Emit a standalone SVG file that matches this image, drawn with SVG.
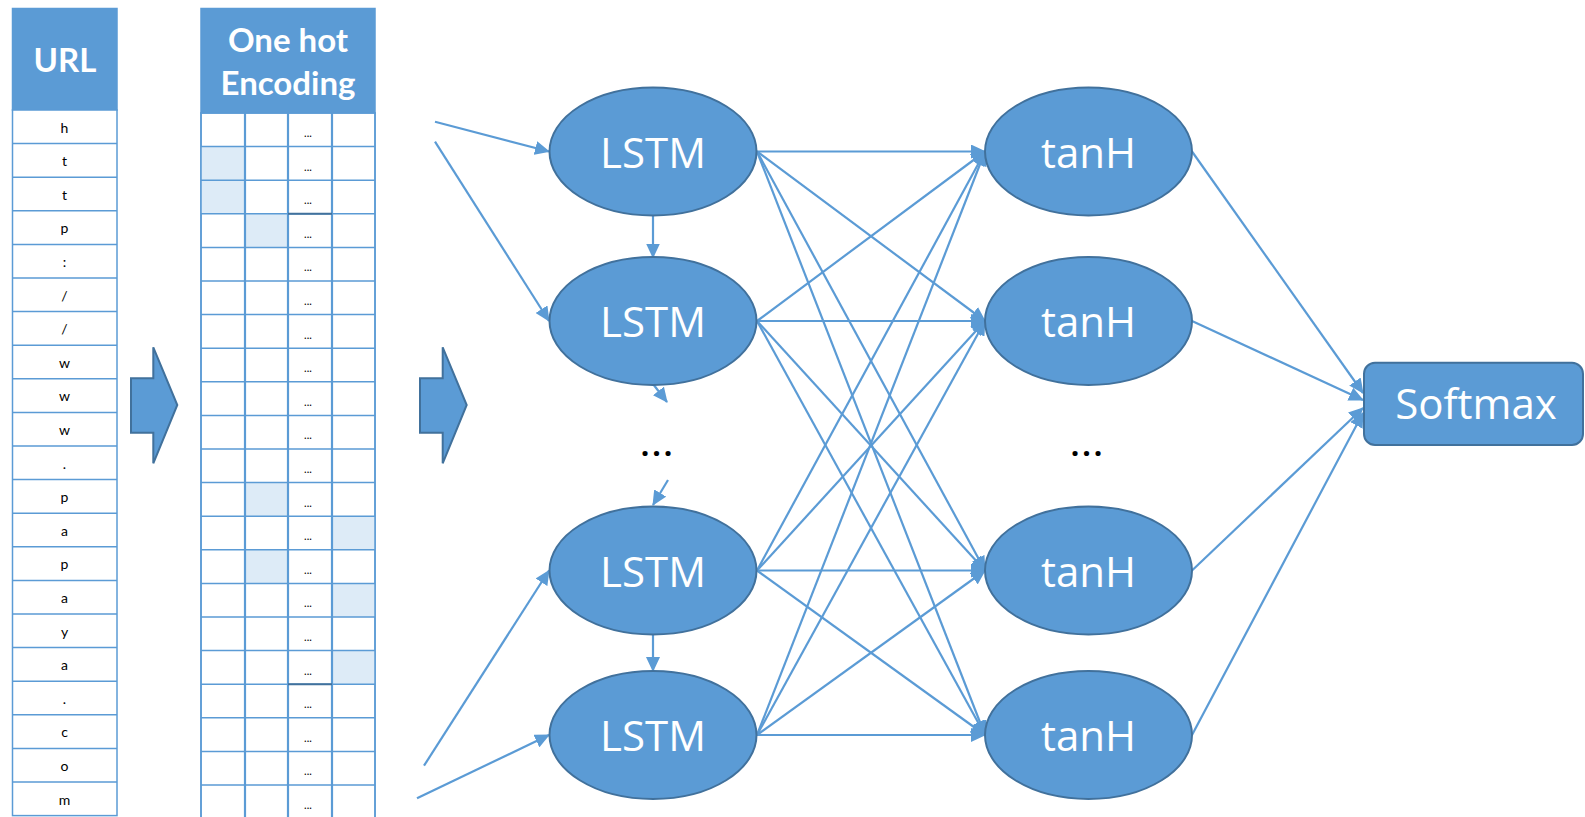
<svg xmlns="http://www.w3.org/2000/svg" width="1585" height="817" viewBox="0 0 1585 817">
<style>
.hdr{fill:#5B9BD5;stroke:#5B9BD5;stroke-width:1.5}
.body{fill:#FFFFFF;stroke:#5B9BD5;stroke-width:1.5}
.grid{stroke:#5B9BD5;stroke-width:1.5;fill:none}
.gridc{stroke:#5B9BD5;stroke-width:2.2;fill:none}
.shade{fill:#DDEBF7}
.htxt{font-family:Lato,"Liberation Sans",sans-serif;font-weight:bold;font-size:33px;fill:#FFFFFF;text-anchor:middle}
.ctxt{font-family:Lato,"Liberation Sans",sans-serif;font-size:14px;fill:#000000;text-anchor:middle}
.dtxt{font-family:Lato,"Liberation Sans",sans-serif;font-size:11px;fill:#000000;text-anchor:middle}
.node{fill:#5B9BD5;stroke:#41719C;stroke-width:2}
.ntxt{font-family:"Open Sans","Liberation Sans",sans-serif;font-size:42px;fill:#FFFFFF;text-anchor:middle}
.ell{font-family:"Open Sans","Liberation Sans",sans-serif;font-weight:bold;font-size:30px;fill:#000000;text-anchor:middle;letter-spacing:3px}
.con{stroke:#5B9BD5;stroke-width:2.2;fill:none;marker-end:url(#ah)}
</style>
<defs>
<marker id="ah" viewBox="0 0 15 14" refX="14" refY="7" markerWidth="15" markerHeight="14" markerUnits="userSpaceOnUse" orient="auto">
<path d="M0,0 L15,7 L0,14 z" fill="#5B9BD5"/>
</marker>
</defs>
<rect width="1585" height="817" fill="#FFFFFF"/>

<g id="url-table">
<rect class="hdr" x="12.5" y="8.5" width="104.5" height="101.5"/>
<text class="htxt" x="65" y="72">URL</text>
<rect class="body" x="12.5" y="110" width="104.5" height="705.6"/>
<path class="grid" d="M12.5,143.6H117M12.5,177.2H117M12.5,210.8H117M12.5,244.4H117M12.5,278H117M12.5,311.6H117M12.5,345.2H117M12.5,378.8H117M12.5,412.4H117M12.5,446H117M12.5,479.6H117M12.5,513.2H117M12.5,546.8H117M12.5,580.4H117M12.5,614H117M12.5,647.6H117M12.5,681.2H117M12.5,714.8H117M12.5,748.4H117M12.5,782H117"/>
<text class="ctxt" x="64.5" y="132.5">h</text>
<text class="ctxt" x="64.5" y="166.1">t</text>
<text class="ctxt" x="64.5" y="199.7">t</text>
<text class="ctxt" x="64.5" y="233.3">p</text>
<text class="ctxt" x="64.5" y="266.9">:</text>
<text class="ctxt" x="64.5" y="300.5">/</text>
<text class="ctxt" x="64.5" y="334.1">/</text>
<text class="ctxt" x="64.5" y="367.7">w</text>
<text class="ctxt" x="64.5" y="401.3">w</text>
<text class="ctxt" x="64.5" y="434.9">w</text>
<text class="ctxt" x="64.5" y="468.5">.</text>
<text class="ctxt" x="64.5" y="502.1">p</text>
<text class="ctxt" x="64.5" y="535.7">a</text>
<text class="ctxt" x="64.5" y="569.3">p</text>
<text class="ctxt" x="64.5" y="602.9">a</text>
<text class="ctxt" x="64.5" y="636.5">y</text>
<text class="ctxt" x="64.5" y="670.1">a</text>
<text class="ctxt" x="64.5" y="703.7">.</text>
<text class="ctxt" x="64.5" y="737.3">c</text>
<text class="ctxt" x="64.5" y="770.9">o</text>
<text class="ctxt" x="64.5" y="804.5">m</text>
</g>

<g id="arrow-1">
<polygon class="node" points="131,378.3 153.3,378.3 153.3,347.3 177.3,405 153.3,463.3 153.3,432.7 131,432.7"/>
</g>

<g id="onehot-table">
<rect class="hdr" x="201" y="8.5" width="174" height="104.5"/>
<text class="htxt" x="288" y="52">One hot</text>
<text class="htxt" x="288" y="95">Encoding</text>
<rect class="body" x="201" y="113" width="174" height="706"/>
<rect class="shade" x="201" y="146.6" width="44" height="33.6"/>
<rect class="shade" x="201" y="180.2" width="44" height="33.6"/>
<rect class="shade" x="245" y="213.8" width="43" height="33.6"/>
<rect class="shade" x="245" y="482.6" width="43" height="33.6"/>
<rect class="shade" x="332" y="516.2" width="43" height="33.6"/>
<rect class="shade" x="245" y="549.8" width="43" height="33.6"/>
<rect class="shade" x="332" y="583.4" width="43" height="33.6"/>
<rect class="shade" x="332" y="650.6" width="43" height="33.6"/>
<path class="grid" d="M201,146.6H375M201,180.2H375M201,213.8H375M201,247.4H375M201,281H375M201,314.6H375M201,348.2H375M201,381.8H375M201,415.4H375M201,449H375M201,482.6H375M201,516.2H375M201,549.8H375M201,583.4H375M201,617H375M201,650.6H375M201,684.2H375M201,717.8H375M201,751.4H375M201,785H375"/>
<path class="gridc" d="M245,113V817M288,113V817M332,113V817"/>
<path d="M288,213.8H332M288,684.2H332" stroke="#41719C" stroke-width="2" fill="none"/>
<rect x="201" y="113" width="174" height="706" fill="none" stroke="#5B9BD5" stroke-width="1.5"/>
<text class="dtxt" x="308" y="137">...</text>
<text class="dtxt" x="308" y="170.6">...</text>
<text class="dtxt" x="308" y="204.2">...</text>
<text class="dtxt" x="308" y="237.8">...</text>
<text class="dtxt" x="308" y="271.4">...</text>
<text class="dtxt" x="308" y="305">...</text>
<text class="dtxt" x="308" y="338.6">...</text>
<text class="dtxt" x="308" y="372.2">...</text>
<text class="dtxt" x="308" y="405.8">...</text>
<text class="dtxt" x="308" y="439.4">...</text>
<text class="dtxt" x="308" y="473">...</text>
<text class="dtxt" x="308" y="506.6">...</text>
<text class="dtxt" x="308" y="540.2">...</text>
<text class="dtxt" x="308" y="573.8">...</text>
<text class="dtxt" x="308" y="607.4">...</text>
<text class="dtxt" x="308" y="641">...</text>
<text class="dtxt" x="308" y="674.6">...</text>
<text class="dtxt" x="308" y="708.2">...</text>
<text class="dtxt" x="308" y="741.8">...</text>
<text class="dtxt" x="308" y="775.4">...</text>
<text class="dtxt" x="308" y="809">...</text>
</g>

<g id="arrow-2">
<polygon class="node" points="420,378.3 442.7,378.3 442.7,347.3 466.7,405 442.7,463.3 442.7,432.7 420,432.7"/>
</g>

<g id="connectors">
<line class="con" x1="435" y1="121.7" x2="549" y2="151.5"/>
<line class="con" x1="435" y1="141.7" x2="549" y2="321"/>
<line class="con" x1="424" y1="765.7" x2="549" y2="570.5"/>
<line class="con" x1="417" y1="798.3" x2="549" y2="735"/>
<line class="con" x1="653" y1="216" x2="653" y2="257.5"/>
<line class="con" x1="653" y1="634.5" x2="653" y2="671"/>
<line class="con" x1="653" y1="384" x2="667" y2="402"/>
<line class="con" x1="668" y1="480" x2="653" y2="505"/>
<line class="con" x1="757" y1="151.5" x2="985" y2="151.5"/>
<line class="con" x1="757" y1="151.5" x2="985" y2="321"/>
<line class="con" x1="757" y1="151.5" x2="985" y2="570.5"/>
<line class="con" x1="757" y1="151.5" x2="985" y2="735"/>
<line class="con" x1="757" y1="321" x2="985" y2="151.5"/>
<line class="con" x1="757" y1="321" x2="985" y2="321"/>
<line class="con" x1="757" y1="321" x2="985" y2="570.5"/>
<line class="con" x1="757" y1="321" x2="985" y2="735"/>
<line class="con" x1="757" y1="570.5" x2="985" y2="151.5"/>
<line class="con" x1="757" y1="570.5" x2="985" y2="321"/>
<line class="con" x1="757" y1="570.5" x2="985" y2="570.5"/>
<line class="con" x1="757" y1="570.5" x2="985" y2="735"/>
<line class="con" x1="757" y1="735" x2="985" y2="151.5"/>
<line class="con" x1="757" y1="735" x2="985" y2="321"/>
<line class="con" x1="757" y1="735" x2="985" y2="570.5"/>
<line class="con" x1="757" y1="735" x2="985" y2="735"/>
<line class="con" x1="1192" y1="151.5" x2="1363" y2="393"/>
<line class="con" x1="1192" y1="321" x2="1363" y2="400"/>
<line class="con" x1="1192" y1="570.5" x2="1363" y2="408"/>
<line class="con" x1="1192" y1="735" x2="1363" y2="413"/>
</g>

<g id="lstm-1"><ellipse class="node" cx="653" cy="151.5" rx="103.5" ry="64"/><text class="ntxt" x="653" y="167.5">LSTM</text></g>
<g id="lstm-2"><ellipse class="node" cx="653" cy="321" rx="103.5" ry="64"/><text class="ntxt" x="653" y="337">LSTM</text></g>
<g id="lstm-ellipsis"><text class="ell" x="658" y="456">...</text></g>
<g id="lstm-3"><ellipse class="node" cx="653" cy="570.5" rx="103.5" ry="64"/><text class="ntxt" x="653" y="586.5">LSTM</text></g>
<g id="lstm-4"><ellipse class="node" cx="653" cy="735" rx="103.5" ry="64"/><text class="ntxt" x="653" y="751">LSTM</text></g>

<g id="tanh-1"><ellipse class="node" cx="1088.5" cy="151.5" rx="103.5" ry="64"/><text class="ntxt" x="1088.5" y="167.5">tanH</text></g>
<g id="tanh-2"><ellipse class="node" cx="1088.5" cy="321" rx="103.5" ry="64"/><text class="ntxt" x="1088.5" y="337">tanH</text></g>
<g id="tanh-ellipsis"><text class="ell" x="1088" y="456">...</text></g>
<g id="tanh-3"><ellipse class="node" cx="1088.5" cy="570.5" rx="103.5" ry="64"/><text class="ntxt" x="1088.5" y="586.5">tanH</text></g>
<g id="tanh-4"><ellipse class="node" cx="1088.5" cy="735" rx="103.5" ry="64"/><text class="ntxt" x="1088.5" y="751">tanH</text></g>

<g id="softmax"><rect class="node" x="1364" y="362.7" width="219" height="82.3" rx="11" ry="11"/><text class="ntxt" x="1476" y="419">Softmax</text></g>
</svg>
